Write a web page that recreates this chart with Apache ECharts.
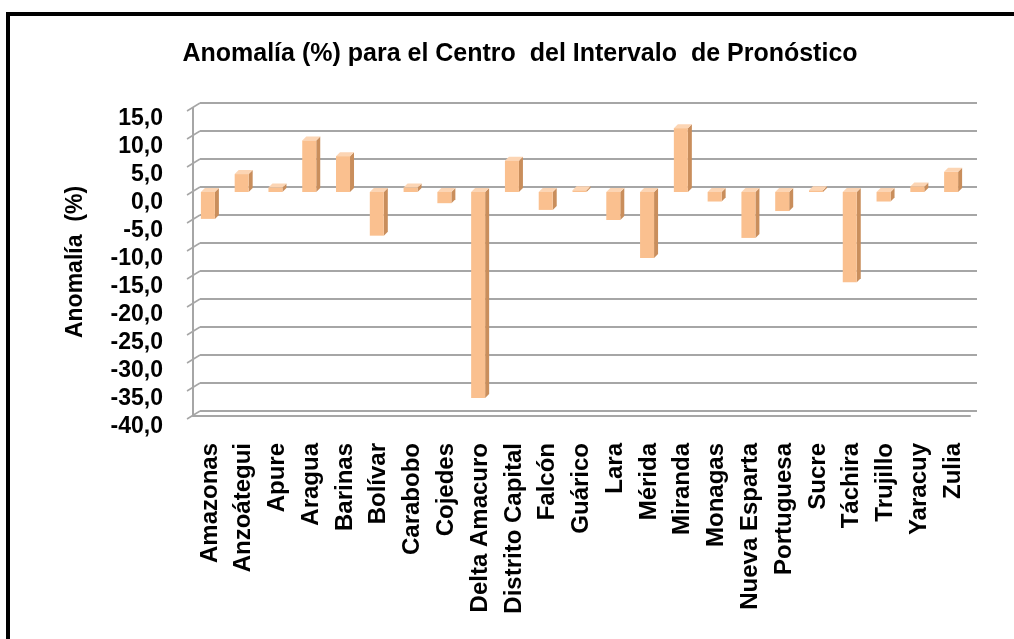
<!DOCTYPE html>
<html>
<head>
    <meta charset="utf-8" />
    <title>Anomalía (%) para el Centro del Intervalo de Pronóstico</title>
    <script src="https://cdn.jsdelivr.net/npm/echarts@6/dist/echarts.min.js"></script>
    <style type="text/css">
        html,
        body {
            width: 100%;
            height: 100%;
            margin: 0;
            background: #ffffff;
        }

        #chart {
            width: 1014px;
            height: 639px;
        }
    </style>
</head>
<body>
    <div id="chart"></div>
    <script>
        var estados = ['Amazonas', 'Anzoátegui', 'Apure', 'Aragua', 'Barinas', 'Bolívar', 'Carabobo', 'Cojedes',
            'Delta Amacuro', 'Distrito Capital', 'Falcón', 'Guárico', 'Lara', 'Mérida', 'Miranda', 'Monagas',
            'Nueva Esparta', 'Portuguesa', 'Sucre', 'Táchira', 'Trujillo', 'Yaracuy', 'Zulia'];
        var anomalia = [-4.8, 3.2, 0.8, 9.2, 6.4, -7.8, 0.8, -2.0,
            -36.8, 5.6, -3.2, 0.3, -5.0, -11.8, 11.4, -1.7,
            -8.2, -3.4, 0.3, -16.1, -1.7, 1.0, 3.6];
        var yMin = -40, yMax = 15, yStep = 5;

        var font = '"Liberation Sans", Arial, sans-serif';
        var frente = '#FAC08F', lado = '#C98E5C', tapa = '#FCD5B4';

        // caja con efecto 3D: cara frontal, lateral y tapa
        function renderBar(params, api) {
            var i = api.value(0);
            var p0 = api.coord([i, 0]);
            var p1 = api.coord([i, api.value(1)]);
            var w = 14, d = 4;
            var x0 = p0[0] - w / 2 - 2;
            var yTop = Math.min(p0[1], p1[1]);
            var yBot = Math.max(p0[1], p1[1]);
            return {
                type: 'group',
                children: [
                    {
                        type: 'polygon',
                        shape: { points: [[x0 + w, yTop], [x0 + w + d, yTop - d], [x0 + w + d, yBot - d], [x0 + w, yBot]] },
                        style: { fill: lado }
                    },
                    {
                        type: 'polygon',
                        shape: { points: [[x0, yTop], [x0 + d, yTop - d], [x0 + w + d, yTop - d], [x0 + w, yTop]] },
                        style: { fill: tapa }
                    },
                    {
                        type: 'rect',
                        shape: { x: x0, y: yTop, width: w, height: Math.max(yBot - yTop, 0.5) },
                        style: { fill: frente }
                    }
                ]
            };
        }

        // trazos diagonales de la pared izquierda (frente -> fondo)
        var ticks = [];
        for (var t = yMin; t <= yMax; t += yStep) ticks.push([0, t]);

        function renderWall(params, api) {
            var p = api.coord([0, api.value(1)]);
            var cs = params.coordSys;
            var x = cs.x;
            return {
                type: 'line',
                shape: { x1: x - 6, y1: p[1] + 3, x2: x + 7, y2: p[1] - 5 },
                style: { stroke: '#a6a6a6', lineWidth: 1.5 }
            };
        }

        var chart = echarts.init(document.getElementById('chart'), null, { renderer: 'canvas' });

        var option = {
            backgroundColor: '#ffffff',
            animation: false,
            title: {
                text: 'Anomalía (%) para el Centro  del Intervalo  de Pronóstico',
                left: 515,
                textAlign: 'center',
                top: 37,
                textStyle: { fontFamily: font, fontSize: 25, fontWeight: 'bold', color: '#000' }
            },
            graphic: [{
                type: 'rect',
                shape: { x: 8, y: 14, width: 1100, height: 700 },
                style: { fill: null, stroke: '#000', lineWidth: 4 },
                z: 100
            }],
            grid: [
                // pared del fondo
                { left: 200, right: 37, top: 103, bottom: 228 },
                // barras
                { left: 193, right: 44, top: 108, bottom: 223 }
            ],
            xAxis: [
                {
                    gridIndex: 0, type: 'category', data: estados,
                    axisLine: { show: false }, axisTick: { show: false }, axisLabel: { show: false }
                },
                {
                    gridIndex: 1, type: 'category', data: estados,
                    axisLine: { show: true, onZero: false, lineStyle: { color: '#a6a6a6', width: 2 } },
                    axisTick: { show: false },
                    axisLabel: {
                        rotate: 90, interval: 0, margin: 27,
                        fontFamily: font, fontSize: 24, fontWeight: 'bold', color: '#000'
                    }
                }
            ],
            yAxis: [
                {
                    gridIndex: 0, type: 'value', min: yMin, max: yMax, interval: yStep,
                    axisLine: { show: false }, axisTick: { show: false }, axisLabel: { show: false },
                    splitLine: { lineStyle: { color: '#a6a6a6', width: 2 } }
                },
                {
                    gridIndex: 1, type: 'value', min: yMin, max: yMax, interval: yStep,
                    name: 'Anomalía  (%)',
                    nameLocation: 'middle',
                    nameGap: 106,
                    nameTextStyle: { fontFamily: font, fontSize: 23, fontWeight: 'bold', color: '#000' },
                    axisLine: { show: true, lineStyle: { color: '#a6a6a6', width: 2 } },
                    axisTick: { show: false },
                    splitLine: { show: false },
                    axisLabel: {
                        margin: 30, verticalAlign: 'top', lineHeight: 21,
                        fontFamily: font, fontSize: 23, fontWeight: 'bold', color: '#000',
                        formatter: function (v) { return v.toFixed(1).replace('.', ','); }
                    }
                }
            ],
            series: [
                {
                    type: 'custom',
                    xAxisIndex: 1,
                    yAxisIndex: 1,
                    renderItem: renderWall,
                    data: ticks,
                    silent: true,
                    z: 5
                },
                {
                    type: 'custom',
                    xAxisIndex: 1,
                    yAxisIndex: 1,
                    renderItem: renderBar,
                    data: anomalia.map(function (v, i) { return [i, v]; }),
                    z: 10
                }
            ]
        };

        chart.setOption(option);
    </script>
</body>
</html>
